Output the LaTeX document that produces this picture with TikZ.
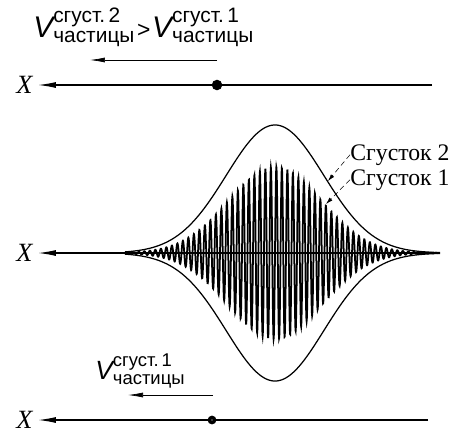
\documentclass[tikz,border=0pt]{standalone}
\usepackage{amsmath}
\usepackage{fontspec}
\setmainfont{Liberation Serif}
\setsansfont{Liberation Sans}
\usetikzlibrary{arrows.meta,positioning}

\newcommand{\bunchvel}[2]{$\textsf{\itshape V}^{\textsf{#1}}_{\textsf{#2}}$}

\begin{document}
\begin{tikzpicture}[
    x=0.02cm,y=-0.02cm,
    axis/.style={line width=0.7pt,-{Latex[length=3.6mm,width=1.2mm]}},
    velarrow/.style={line width=0.4pt,-{Latex[length=3mm,width=1mm]}},
    xlabel/.style={font=\fontsize{15}{17}\selectfont\itshape,inner sep=0pt},
    vellabel/.style={anchor=base west,inner sep=0pt},
    bunchlabel/.style={font=\fontsize{13.5}{15}\selectfont,anchor=base west,inner sep=0pt},
    leader/.style={densely dashed,line width=0.3pt,-{Latex[length=1.4mm,width=0.8mm]}},
    dot/.style={circle,fill=black,inner sep=0pt,minimum size=6pt},
    envelope/.style={line width=0.7pt}
]
\useasboundingbox (0,0) rectangle (455,433);

% top: particle velocity in bunch 2 greater than in bunch 1
\node[vellabel,font=\fontsize{17}{20}\selectfont] (vtop) at (33,37) {\bunchvel{сгуст.\,2}{частицы}\kern1pt\textsf{\fontsize{13}{15}\selectfont >}\kern1pt\bunchvel{сгуст.\,1}{частицы}};
\coordinate (vtop r) at (217,60);
\coordinate (vtop l) at (90,60);
\draw[velarrow] (vtop r) -- (vtop l);
\coordinate (axtop r) at (432,85);
\coordinate (axtop l) at (38,85);
\draw[axis] (axtop r) -- (axtop l);
\node[xlabel,left=3pt of axtop l] (xtop) {X};
\node[dot] (ptop) at (217,85) {};

% middle: the two bunches
\coordinate (axmid r) at (432,253);
\coordinate (axmid l) at (38,253);
\draw[axis] (axmid r) -- (axmid l);
\node[xlabel,left=3pt of axmid l] (xmid) {X};
\draw[line width=1pt] plot[domain=128:438,samples=1700] (\x,{253-86*exp(-((\x-275)/66)^2)*sin(360*mod(\x,5.5)/5.5)});
\draw[envelope] plot[domain=125:440,samples=200,smooth] (\x,{253-128*exp(-((\x-275)/69)^2)});
\draw[envelope] plot[domain=125:440,samples=200,smooth] (\x,{253+128*exp(-((\x-275)/69)^2)});
\node[bunchlabel] (b2) at (350,160) {Сгусток 2};
\node[bunchlabel] (b1) at (350,185) {Сгусток 1};
\coordinate (b2 end) at (328,181);
\coordinate (b1 end) at (326,204);
\draw[leader] (b2.west) -- (b2 end);
\draw[leader] (b1.west) -- (b1 end);

% bottom: bunch 1 alone
\node[vellabel,font=\fontsize{15}{18}\selectfont] (vbot) at (95,379) {\bunchvel{сгуст.\,1}{частицы}};
\coordinate (vbot r) at (213,395);
\coordinate (vbot l) at (128,395);
\draw[velarrow] (vbot r) -- (vbot l);
\coordinate (axbot r) at (428,420);
\coordinate (axbot l) at (38,420);
\draw[axis] (axbot r) -- (axbot l);
\node[xlabel,left=3pt of axbot l] (xbot) {X};
\node[dot,minimum size=5pt] (pbot) at (212,420) {};
\fill[white] (pbot) circle (0.7);
\end{tikzpicture}
\end{document}
